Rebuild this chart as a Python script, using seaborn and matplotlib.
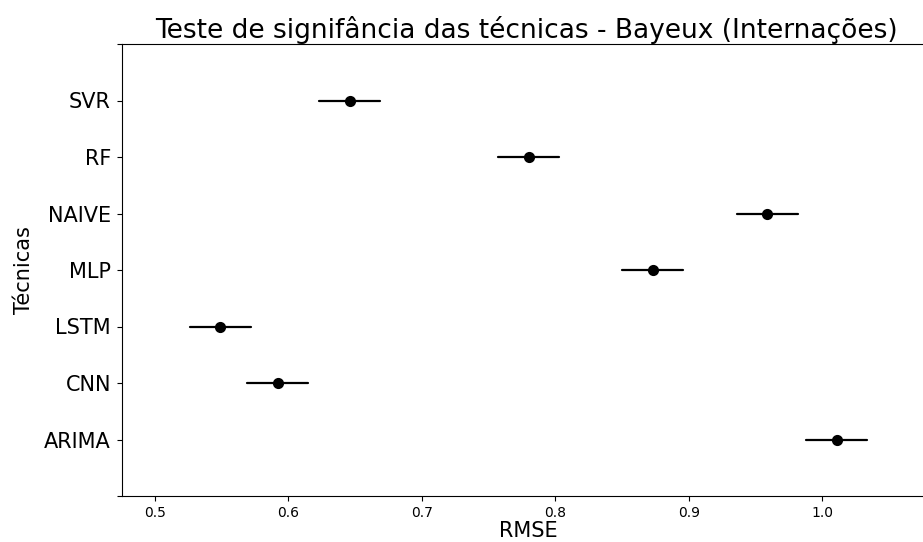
import numpy as np
import pandas as pd
import seaborn as sns
import matplotlib
matplotlib.use("Agg")
import matplotlib.pyplot as plt

tecnicas = ["SVR", "RF", "NAIVE", "MLP", "LSTM", "CNN", "ARIMA"]
medias = [0.646, 0.780, 0.959, 0.873, 0.549, 0.592, 1.011]
meia_largura = [0.0228, 0.0228, 0.0228, 0.0228, 0.0228, 0.0228, 0.0228]

rows = []
for t, m, h in zip(tecnicas, medias, meia_largura):
    rows.append({"Técnicas": t, "RMSE": m - h})
    rows.append({"Técnicas": t, "RMSE": m + h})
df = pd.DataFrame(rows)

sns.set_theme(style="ticks", rc={
    "text.color": "black", "axes.labelcolor": "black",
    "xtick.color": "black", "ytick.color": "black",
    "axes.edgecolor": "black",
    "xtick.major.size": 3.5, "ytick.major.size": 3.5,
    "xtick.major.width": 0.8, "ytick.major.width": 0.8,
})
plt.rcParams["font.family"] = ["DejaVu Sans"]

fig = plt.figure(figsize=(9.23, 5.42), dpi=100)
ax = fig.add_axes([122 / 923, 1 - 496 / 542, (935 - 122) / 923, (496 - 44) / 542])

sns.pointplot(data=df, x="RMSE", y="Técnicas", order=tecnicas, estimator="mean",
              errorbar=("pi", 100), color="black", linestyle="none", marker="o",
              markersize=6, capsize=0, err_kws={"linewidth": 1.6}, ax=ax)

lo = min(m - h for m, h in zip(medias, meia_largura))
hi = max(m + h for m, h in zip(medias, meia_largura))
r = hi - lo
ax.set_xlim(lo - r / 10, hi + r / 10)
ax.set_yticks(np.arange(-1, len(tecnicas) + 1))
ax.set_yticklabels([""] + tecnicas + [""])
ax.set_ylim(len(tecnicas), -1)
ax.set_xticks([0.5, 0.6, 0.7, 0.8, 0.9, 1.0])
ax.tick_params(axis="x", labelsize=10)
ax.tick_params(axis="y", labelsize=15, pad=4.5)
for s in ax.spines.values():
    s.set_visible(True)
    s.set_color("black")
    s.set_linewidth(0.8)
ax.set_xlabel("RMSE", fontsize=15, labelpad=1)
ax.set_ylabel("Técnicas", fontsize=15, labelpad=7)
fig.text((122 + 935) / 2 / 923 - 0.002, 1 - 30 / 542, "Teste de signifância das técnicas - Bayeux (Internações)",
         ha="center", va="center", fontsize=19)

fig.savefig("out.png", dpi=100)
